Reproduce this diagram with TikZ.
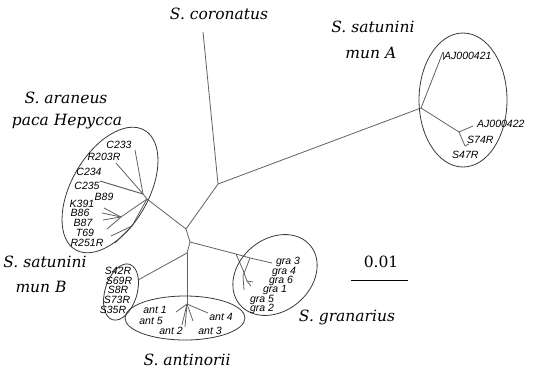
\documentclass[tikz,border=0pt]{standalone}
\usepackage{fontspec}
\setmainfont{DejaVu Serif}
\newfontfamily\leaffont{Liberation Sans}
\begin{document}
\begin{tikzpicture}[x=1pt,y=-1pt,
  branch/.style={draw=black!62, line width=0.8pt},
  hull/.style={draw=black!78, line width=0.8pt},
  species/.style={font=\fontsize{15.5}{18}\selectfont\itshape, inner sep=0pt},
  leaf/.style={font=\leaffont\fontsize{10.5}{12}\selectfont\itshape, inner sep=0pt},
  scalelbl/.style={font=\fontsize{15.5}{18}\selectfont, inner sep=0pt}]
\useasboundingbox (0,0) rectangle (534,373);

% ---- internal nodes of the tree
\coordinate (tcor) at (203,32);
\coordinate (nA) at (218,184);
\coordinate (nSA) at (421,108);
\coordinate (nB) at (186,229);
\coordinate (nC) at (190,242);
\coordinate (nD) at (187,253);
\coordinate (nE) at (187,304);
\coordinate (tSB) at (138,280);
\coordinate (ar1) at (143,194);
\coordinate (ar2) at (147,199);
\coordinate (as1) at (121,217);
\coordinate (as2) at (132,226);
\coordinate (nG) at (236,254);
\coordinate (nG2) at (250,258);
\coordinate (tgra3) at (272,263);

% ---- backbone
\draw[branch] (tcor) -- (nA);
\draw[branch] (nA) -- (nSA);
\draw[branch] (nA) -- (nB);
\draw[branch] (nB) -- (ar2);
\draw[branch] (nB) -- (nC) -- (nD);
\draw[branch] (nD) -- (tSB);
\draw[branch] (nD) -- (nE);
\draw[branch] (nC) -- (nG) -- (nG2) -- (tgra3);

% ---- S. araneus cluster
\draw[branch] (ar2) -- (ar1);
\draw[branch] (ar1) -- (135,150);
\draw[branch] (ar1) -- (116,163);
\draw[branch, line width=1pt] (ar1) -- (100,181);
\draw[branch] (ar2) -- (as1);
\foreach \p in {(104,208),(102,213),(103,220),(107,229)} \draw[branch] (as1) -- \p;
\draw[branch] (ar2) -- (as2);
\foreach \p in {(111,236),(115,243)} \draw[branch] (as2) -- \p;

% ---- S. antinorii fan
\foreach \p in {(176,312),(182,325),(185,327),(193,321),(208,313)} \draw[branch] (nE) -- \p;

% ---- S. granarius
\draw[branch] (nG) -- (243,270) -- (247,281);
\draw[branch] (247,281) -- (253,282);
\draw[branch] (247,281) -- (251,286);
\draw[branch] (nG2) -- (243,276) -- (244,290);

% ---- S. satunini type A
\coordinate (sa1) at (459,132);
\coordinate (sa2) at (465,146);
\draw[branch] (nSA) -- (443,52);
\draw[branch] (443,52) -- (443,60);
\draw[branch] (nSA) -- (sa1);
\draw[branch] (sa1) -- (473,126);
\draw[branch] (sa1) -- (sa2);
\draw[branch] (sa2) -- (469,144);

% ---- cluster outlines
\draw[hull, rotate around={60:(110,190)}] (110,190) ellipse [x radius=69, y radius=38.5];
\draw[hull] (463,100) ellipse [x radius=44, y radius=67];
\draw[hull, rotate around={73:(121,292)}] (121,292) ellipse [x radius=29, y radius=16];
\draw[hull] (185,318) ellipse [x radius=60, y radius=22];
\draw[hull, rotate around={40:(275,275)}] (275,275) ellipse [x radius=46, y radius=36];

% ---- species names
\node[species] (lcor) at (219,14) {S. coronatus};
\node[species] (lsat1) at (373,27) {S. satunini};
\node[species] (lsat2) at (371,53) {тип А};
\node[species] (lar1) at (66,98) {S. araneus};
\node[species] (lar2) at (67,122) {раса Нерусса};
\node[species] (lsb1) at (45,262) {S. satunini};
\node[species] (lsb2) at (41,287) {тип В};
\node[species] (lant) at (187,360) {S. antinorii};
\node[species] (lgra) at (347,317) {S. granarius};

% ---- scale bar
\node[scalelbl] (lscale) at (381,262) {0.01};
\coordinate (sbl) at (351,280);
\coordinate (sbr) at (408,280);
\draw[line width=0.8pt] (sbl) -- (sbr);

% ---- leaf labels
\node[leaf] at (119,145) {C233};
\node[leaf] at (104,157) {R203R};
\node[leaf] at (89,172) {C234};
\node[leaf] at (87,186) {C235};
\node[leaf] at (104,197) {B89};
\node[leaf] at (82,204) {K391};
\node[leaf] at (80,213) {B86};
\node[leaf] at (83,223) {B87};
\node[leaf] at (85,233) {T69};
\node[leaf] at (87,243) {R251R};

\node[leaf, anchor=west] at (444,56) {AJ000421};
\node[leaf, anchor=west] at (477,124) {AJ000422};
\node[leaf, anchor=west] at (467,140) {S74R};
\node[leaf, anchor=west] at (452,155) {S47R};

\node[leaf] at (118,271) {S42R};
\node[leaf] at (119,281) {S69R};
\node[leaf] at (118,290) {S8R};
\node[leaf] at (117,300) {S73R};
\node[leaf] at (113,310) {S35R};

\node[leaf] at (155,310) {ant 1};
\node[leaf] at (151,321) {ant 5};
\node[leaf] at (171,331) {ant 2};
\node[leaf] at (210,331) {ant 3};
\node[leaf] at (221,317) {ant 4};

\node[leaf] at (288,262) {gra 3};
\node[leaf] at (284,272) {gra 4};
\node[leaf] at (281,281) {gra 6};
\node[leaf] at (275,290) {gra 1};
\node[leaf] at (262,300) {gra 5};
\node[leaf] at (262,309) {gra 2};
\end{tikzpicture}
\end{document}
